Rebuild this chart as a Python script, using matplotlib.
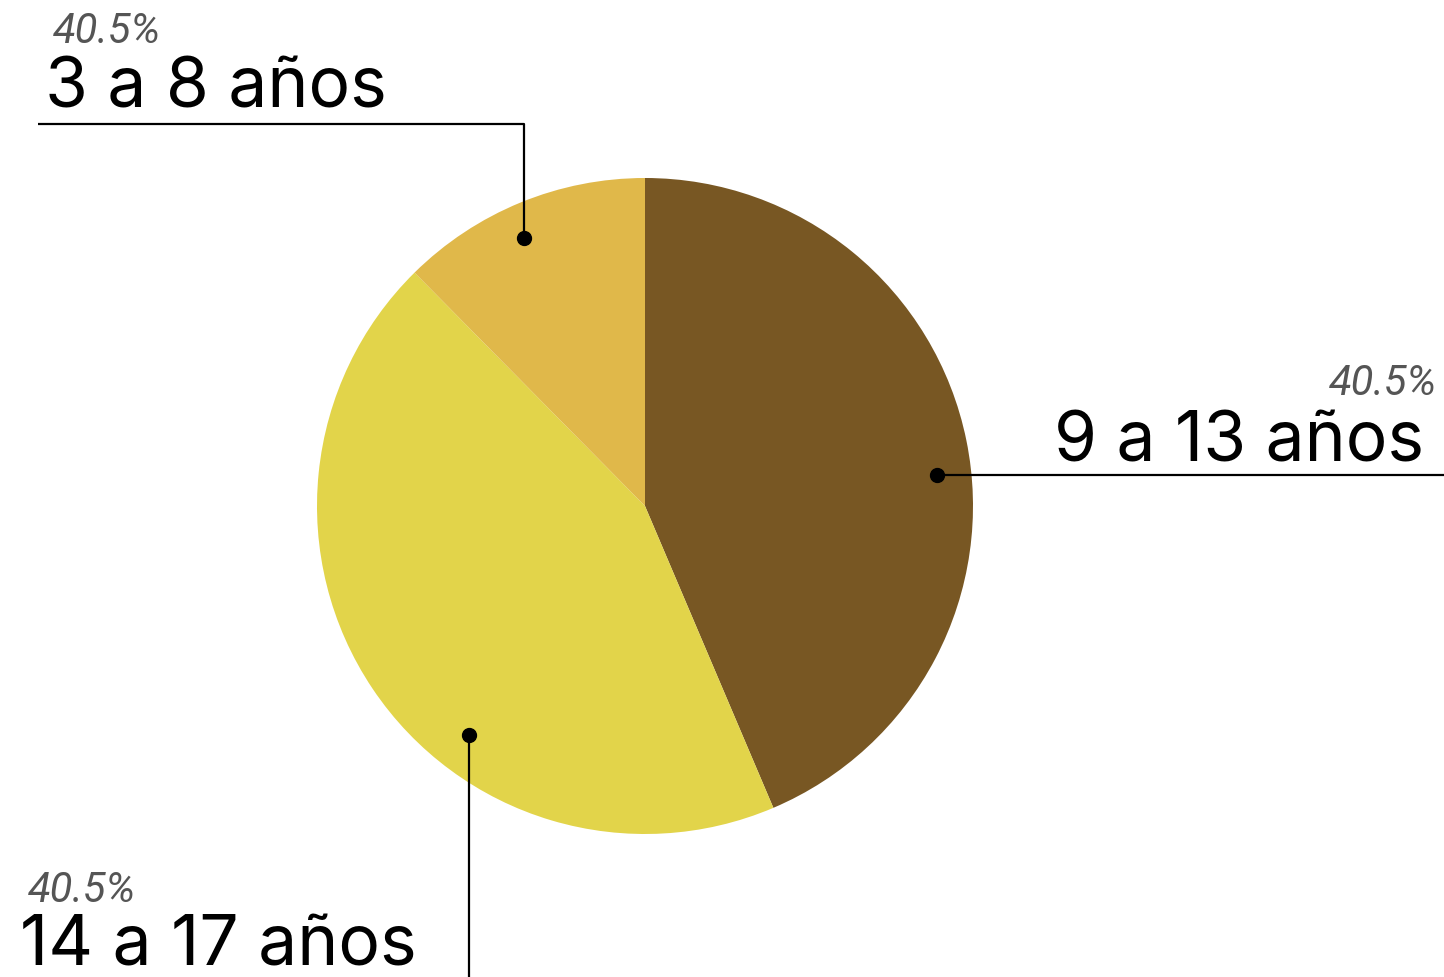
import matplotlib.pyplot as plt

labels = ['9 a 13 años', '14 a 17 años', '3 a 8 años']
values = [43.6, 44.0, 12.4]
pct_labels = ['40.5%', '40.5%', '40.5%']
colors = ['#785723', '#E2D44A', '#E0B84A']

W, H = 1444, 978
fig = plt.figure(figsize=(W / 100, H / 100), dpi=100)
ax = fig.add_axes([0, 0, 1, 1])

# pie in pixel coords (y measured from bottom)
cx, cy, r = 645, H - 507, 328
ax.pie(values, colors=colors, startangle=90, counterclock=False,
       center=(cx, cy), radius=r, frame=True,
       wedgeprops=dict(linewidth=0))
ax.set_xlim(0, W)
ax.set_ylim(0, H)
ax.set_aspect('equal')
ax.axis('off')

lab_font = 'Inter'
pct_font = 'Roboto'

def y(p):
    return H - p

# callout lines: dot, path, text
callouts = [
    # 9 a 13
    dict(dot=(937, 476), path=[(937, 476), (1444, 476)],
         tx=1424, ty=462, pty=395, ptx=1437, ha='right'),
    # 14 a 17
    dict(dot=(469, 736), path=[(469, 736), (469, 978)],
         tx=20, ty=966, pty=902, ptx=28, ha='left'),
    # 3 a 8
    dict(dot=(524, 239), path=[(524, 239), (524, 125), (38, 125)],
         tx=45, ty=108, pty=43, ptx=53, ha='left'),
]

for c, lab, pct in zip(callouts, labels, pct_labels):
    xs = [p[0] for p in c['path']]
    ys = [y(p[1]) for p in c['path']]
    ax.plot(xs, ys, color='black', lw=1.6, solid_capstyle='butt', zorder=3)
    ax.plot(c['dot'][0], y(c['dot'][1]), 'o', color='black', ms=10, zorder=4)
    ax.text(c['tx'], y(c['ty']), lab, ha=c['ha'], va='baseline',
            fontsize=50, fontfamily=lab_font, color='black')
    ax.text(c['ptx'], y(c['pty']), pct, ha=c['ha'], va='baseline',
            fontsize=30, fontfamily=pct_font, fontstyle='italic', color='#555555')

fig.savefig('out.png', dpi=100)
